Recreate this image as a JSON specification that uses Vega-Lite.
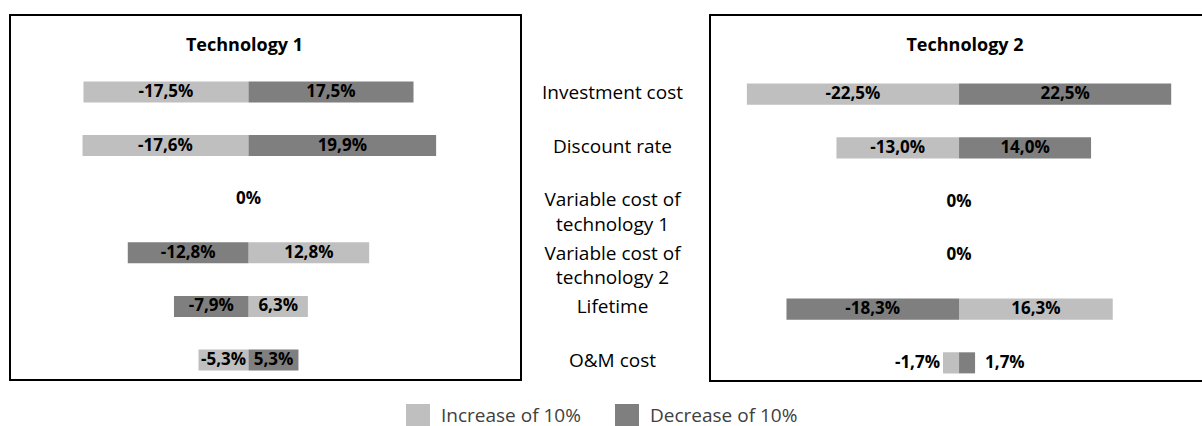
{
  "$schema": "https://vega.github.io/schema/vega-lite/v6.json",
  "padding": {"left": 9, "top": 14, "right": 0, "bottom": 0},
  "autosize": {"type": "pad"},
  "config": {
    "font": "Open Sans",
    "locale": {"number": {"decimal": ",", "thousands": ".", "grouping": [3], "currency": ["", " €"], "minus": "-"}},
    "concat": {"spacing": 0},
    "title": {"color": "black", "fontSize": 18, "fontWeight": "bold", "font": "Open Sans"}
  },
  "data": {"values": [
    {"tech": "Technology 1", "param": "Investment cost", "scen": "Increase of 10%", "v": -0.175},
    {"tech": "Technology 1", "param": "Investment cost", "scen": "Decrease of 10%", "v": 0.175},
    {"tech": "Technology 1", "param": "Discount rate", "scen": "Increase of 10%", "v": -0.176},
    {"tech": "Technology 1", "param": "Discount rate", "scen": "Decrease of 10%", "v": 0.199},
    {"tech": "Technology 1", "param": "Variable cost of technology 1", "scen": "Increase of 10%", "v": 0},
    {"tech": "Technology 1", "param": "Variable cost of technology 1", "scen": "Decrease of 10%", "v": 0},
    {"tech": "Technology 1", "param": "Variable cost of technology 2", "scen": "Increase of 10%", "v": 0.128},
    {"tech": "Technology 1", "param": "Variable cost of technology 2", "scen": "Decrease of 10%", "v": -0.128},
    {"tech": "Technology 1", "param": "Lifetime", "scen": "Increase of 10%", "v": 0.063},
    {"tech": "Technology 1", "param": "Lifetime", "scen": "Decrease of 10%", "v": -0.079},
    {"tech": "Technology 1", "param": "O&M cost", "scen": "Increase of 10%", "v": -0.053},
    {"tech": "Technology 1", "param": "O&M cost", "scen": "Decrease of 10%", "v": 0.053},
    {"tech": "Technology 2", "param": "Investment cost", "scen": "Increase of 10%", "v": -0.225},
    {"tech": "Technology 2", "param": "Investment cost", "scen": "Decrease of 10%", "v": 0.225},
    {"tech": "Technology 2", "param": "Discount rate", "scen": "Increase of 10%", "v": -0.13},
    {"tech": "Technology 2", "param": "Discount rate", "scen": "Decrease of 10%", "v": 0.14},
    {"tech": "Technology 2", "param": "Variable cost of technology 1", "scen": "Increase of 10%", "v": 0},
    {"tech": "Technology 2", "param": "Variable cost of technology 1", "scen": "Decrease of 10%", "v": 0},
    {"tech": "Technology 2", "param": "Variable cost of technology 2", "scen": "Increase of 10%", "v": 0},
    {"tech": "Technology 2", "param": "Variable cost of technology 2", "scen": "Decrease of 10%", "v": 0},
    {"tech": "Technology 2", "param": "Lifetime", "scen": "Increase of 10%", "v": 0.163},
    {"tech": "Technology 2", "param": "Lifetime", "scen": "Decrease of 10%", "v": -0.183},
    {"tech": "Technology 2", "param": "O&M cost", "scen": "Increase of 10%", "v": -0.017},
    {"tech": "Technology 2", "param": "O&M cost", "scen": "Decrease of 10%", "v": 0.017}
  ]},
  "transform": [
    {"calculate": "datum.v == 0 ? '0%' : format(datum.v, '.1%')", "as": "lab"},
    {"calculate": "datum.v / 2", "as": "mid"}
  ],
  "spacing": 0,
  "resolve": {"scale": {"x": "independent", "y": "independent"}},
  "hconcat": [
    {
      "width": 511, "height": 365,
      "view": {"stroke": "black", "strokeWidth": 2},
      "title": {"text": "Technology 1", "offset": -54, "baseline": "alphabetic", "dx": -21},
      "transform": [{"filter": "datum.tech == 'Technology 1'"}],
      "encoding": {
        "y": {"field": "param", "type": "nominal", "axis": null,
              "scale": {"type": "band", "domain": ["Investment cost", "Discount rate", "Variable cost of technology 1", "Variable cost of technology 2", "Lifetime", "O&M cost"],
                        "paddingInner": 0.608, "paddingOuter": 0.709, "align": 0.875}}
      },
      "layer": [
        {
          "transform": [{"filter": "datum.v != 0"}],
          "mark": {"type": "bar"},
          "encoding": {
            "x": {"field": "v", "type": "quantitative", "axis": null, "stack": null,
                  "scale": {"domain": [-0.2529, 0.289], "nice": false, "zero": false}},
            "color": {"field": "scen", "type": "nominal",
                      "scale": {"domain": ["Increase of 10%", "Decrease of 10%"], "range": ["#BFBFBF", "#7F7F7F"]},
                      "legend": {"orient": "none", "legendX": 396, "legendY": 389, "direction": "horizontal", "title": null,
                                 "symbolType": "square", "symbolSize": 576, "symbolStrokeWidth": 0, "symbolOpacity": 1,
                                 "labelFontSize": 19, "labelColor": "#404040", "labelOffset": 11, "columnPadding": 34, "padding": 0}}
          }
        },
        {
          "transform": [{"filter": "abs(datum.v) >= 0.03 || (datum.v == 0 && datum.scen == 'Increase of 10%')"}],
          "mark": {"type": "text", "fontWeight": "bold", "fontSize": 17, "color": "black", "align": "center", "baseline": "middle"},
          "encoding": {"x": {"field": "mid", "type": "quantitative"}, "text": {"field": "lab"}}
        },
        {
          "transform": [{"filter": "datum.v < 0 && datum.v > -0.03"}],
          "mark": {"type": "text", "fontWeight": "bold", "fontSize": 17, "color": "black", "align": "right", "baseline": "middle", "dx": -3},
          "encoding": {"x": {"field": "v", "type": "quantitative"}, "text": {"field": "lab"}}
        },
        {
          "transform": [{"filter": "datum.v > 0 && datum.v < 0.03"}],
          "mark": {"type": "text", "fontWeight": "bold", "fontSize": 17, "color": "black", "align": "left", "baseline": "middle", "dx": 10},
          "encoding": {"x": {"field": "v", "type": "quantitative"}, "text": {"field": "lab"}}
        }
      ]
    },
    {
      "width": 187, "height": 365,
      "view": {"stroke": null},
      "transform": [
        {"filter": "datum.tech == 'Technology 1' && datum.scen == 'Increase of 10%'"},
        {"calculate": "replace(datum.param, ' of ', ' of\\n')", "as": "disp"}
      ],
      "mark": {"type": "text", "fontSize": 19, "color": "black", "lineBreak": "\n", "lineHeight": 24.5, "align": "center", "baseline": "middle", "dx": -3, "dy": 1},
      "encoding": {
        "y": {"field": "param", "type": "nominal", "axis": null,
              "scale": {"type": "band", "domain": ["Investment cost", "Discount rate", "Variable cost of technology 1", "Variable cost of technology 2", "Lifetime", "O&M cost"],
                        "paddingInner": 0.608, "paddingOuter": 0.709, "align": 0.875}},
        "text": {"field": "disp"}
      }
    },
    {
      "width": 496, "height": 366,
      "view": {"stroke": "black", "strokeWidth": 2},
      "title": {"text": "Technology 2", "offset": -54, "baseline": "alphabetic", "dx": 7},
      "transform": [{"filter": "datum.tech == 'Technology 2'"}],
      "encoding": {
        "y": {"field": "param", "type": "nominal", "axis": null,
              "scale": {"type": "band", "domain": ["Investment cost", "Discount rate", "Variable cost of technology 1", "Variable cost of technology 2", "Lifetime", "O&M cost"],
                        "paddingInner": 0.608, "paddingOuter": 0.709, "align": 0.9}}
      },
      "layer": [
        {
          "transform": [{"filter": "datum.v != 0"}],
          "mark": {"type": "bar"},
          "encoding": {
            "x": {"field": "v", "type": "quantitative", "axis": null, "stack": null,
                  "scale": {"domain": [-0.2641, 0.2619], "nice": false, "zero": false}},
            "color": {"field": "scen", "type": "nominal",
                      "scale": {"domain": ["Increase of 10%", "Decrease of 10%"], "range": ["#BFBFBF", "#7F7F7F"]},
                      "legend": {"orient": "none", "legendX": 396, "legendY": 389, "direction": "horizontal", "title": null,
                                 "symbolType": "square", "symbolSize": 576, "symbolStrokeWidth": 0, "symbolOpacity": 1,
                                 "labelFontSize": 19, "labelColor": "#404040", "labelOffset": 11, "columnPadding": 34, "padding": 0}}
          }
        },
        {
          "transform": [{"filter": "abs(datum.v) >= 0.03 || (datum.v == 0 && datum.scen == 'Increase of 10%')"}],
          "mark": {"type": "text", "fontWeight": "bold", "fontSize": 17, "color": "black", "align": "center", "baseline": "middle"},
          "encoding": {"x": {"field": "mid", "type": "quantitative"}, "text": {"field": "lab"}}
        },
        {
          "transform": [{"filter": "datum.v < 0 && datum.v > -0.03"}],
          "mark": {"type": "text", "fontWeight": "bold", "fontSize": 17, "color": "black", "align": "right", "baseline": "middle", "dx": -3},
          "encoding": {"x": {"field": "v", "type": "quantitative"}, "text": {"field": "lab"}}
        },
        {
          "transform": [{"filter": "datum.v > 0 && datum.v < 0.03"}],
          "mark": {"type": "text", "fontWeight": "bold", "fontSize": 17, "color": "black", "align": "left", "baseline": "middle", "dx": 10},
          "encoding": {"x": {"field": "v", "type": "quantitative"}, "text": {"field": "lab"}}
        }
      ]
    }
  ]
}
